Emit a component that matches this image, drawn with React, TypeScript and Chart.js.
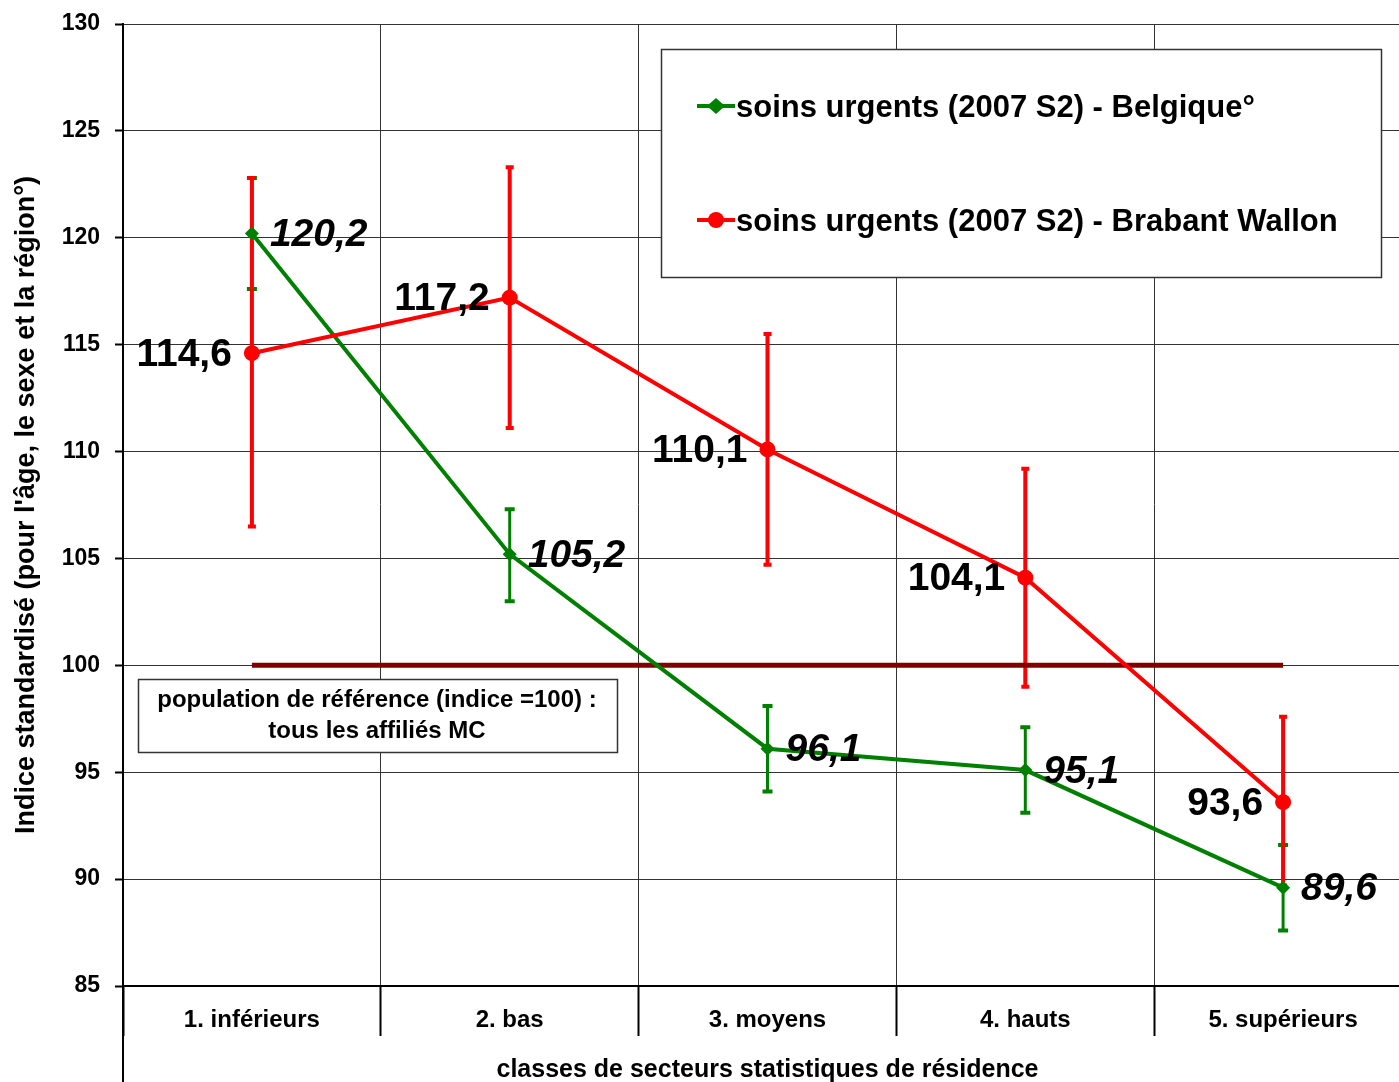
import React, { useEffect, useRef } from 'react';
import { Chart, registerables } from 'chart.js';

Chart.register(...registerables);

const categories = ['1. inférieurs', '2. bas', '3. moyens', '4. hauts', '5. supérieurs'];
const belgique = [120.2, 105.2, 96.1, 95.1, 89.6];
const belgiqueLow = [117.6, 103.0, 94.1, 93.1, 87.6];
const belgiqueHigh = [122.8, 107.3, 98.1, 97.1, 91.6];
const brabant = [114.6, 117.2, 110.1, 104.1, 93.6];
const brabantLow = [106.5, 111.1, 104.7, 99.0, 89.7];
const brabantHigh = [122.8, 123.3, 115.5, 109.2, 97.6];
const reference = [100, 100, 100, 100, 100];
const yMin = 85;
const yMax = 130;
const yStep = 5;
const seriesNames = ['soins urgents (2007 S2) - Belgique°', 'soins urgents (2007 S2) - Brabant Wallon'];
const refNote = ['population de référence (indice =100) :', 'tous les affiliés MC'];
const xTitle = 'classes de secteurs statistiques de résidence';
const yTitle = "Indice standardisé (pour l'âge, le sexe et la région°)";

const FONT = "'Liberation Sans', Arial, sans-serif";
const GREEN = '#008000';
const RED = '#FF0000';
const CANVAS_W = 1420;
const fmt = (v: number) => v.toFixed(1).replace('.', ',');

const errorBarsPlugin = {
  id: 'errorBars',
  beforeDatasetsDraw(chart: any) {
    const ctx = chart.ctx;
    const yS = chart.scales.y;
    const sets = [
      { idx: 0, low: belgiqueLow, high: belgiqueHigh, color: GREEN, w: 3, cap: 5 },
      { idx: 1, low: brabantLow, high: brabantHigh, color: RED, w: 4, cap: 4 },
    ];
    ctx.save();
    sets.forEach((s) => {
      const meta = chart.getDatasetMeta(s.idx);
      meta.data.forEach((pt: any, i: number) => {
        const x = pt.x;
        const y1 = yS.getPixelForValue(s.low[i]);
        const y2 = yS.getPixelForValue(s.high[i]);
        ctx.strokeStyle = s.color;
        ctx.lineWidth = s.w;
        ctx.beginPath();
        ctx.moveTo(x, y1);
        ctx.lineTo(x, y2);
        ctx.stroke();
        ctx.lineWidth = 4;
        ctx.beginPath();
        ctx.moveTo(x - s.cap, y1);
        ctx.lineTo(x + s.cap, y1);
        ctx.moveTo(x - s.cap, y2);
        ctx.lineTo(x + s.cap, y2);
        ctx.stroke();
      });
    });
    ctx.restore();
  },
  afterDatasetsDraw(chart: any) {
    const ctx = chart.ctx;
    ctx.save();
    ctx.fillStyle = '#000';
    ctx.textBaseline = 'middle';
    const m0 = chart.getDatasetMeta(0);
    ctx.font = `italic bold 39px ${FONT}`;
    ctx.textAlign = 'left';
    m0.data.forEach((pt: any, i: number) => {
      ctx.fillText(fmt(belgique[i]), pt.x + 18, pt.y + 2);
    });
    const m1 = chart.getDatasetMeta(1);
    ctx.font = `bold 39px ${FONT}`;
    ctx.textAlign = 'right';
    m1.data.forEach((pt: any, i: number) => {
      ctx.fillText(fmt(brabant[i]), pt.x - 20, pt.y + 2);
    });
    ctx.restore();
  },
  afterDraw(chart: any) {
    const ctx = chart.ctx;
    const area = chart.chartArea;
    ctx.save();
    // y axis line continuing below the x axis
    ctx.strokeStyle = '#000';
    ctx.lineWidth = 2;
    ctx.beginPath();
    ctx.moveTo(area.left, area.bottom);
    ctx.lineTo(area.left, chart.height);
    ctx.stroke();

    // legend box
    ctx.fillStyle = '#fff';
    ctx.fillRect(661, 49, 720, 228);
    ctx.strokeStyle = '#333';
    ctx.lineWidth = 1.5;
    ctx.strokeRect(661.5, 49.5, 720, 228);
    const rows = [106, 220];
    [0, 1].forEach((d) => {
      const ds = chart.data.datasets[d];
      const y = rows[d];
      ctx.strokeStyle = ds.borderColor;
      ctx.lineWidth = 4;
      ctx.beginPath();
      ctx.moveTo(697, y);
      ctx.lineTo(735, y);
      ctx.stroke();
      ctx.fillStyle = ds.borderColor;
      ctx.beginPath();
      if (d === 0) {
        ctx.moveTo(716, y - 8);
        ctx.lineTo(725, y);
        ctx.lineTo(716, y + 8);
        ctx.lineTo(707, y);
        ctx.closePath();
      } else {
        ctx.arc(716, y, 8, 0, Math.PI * 2);
      }
      ctx.fill();
      ctx.fillStyle = '#000';
      ctx.font = `bold 31px ${FONT}`;
      ctx.textAlign = 'left';
      ctx.textBaseline = 'middle';
      ctx.fillText(ds.label, 736, y + 2);
    });

    // reference note box
    ctx.fillStyle = '#fff';
    ctx.fillRect(138, 679, 479, 73);
    ctx.strokeStyle = '#333';
    ctx.lineWidth = 1.5;
    ctx.strokeRect(138.5, 679.5, 479, 73);
    ctx.fillStyle = '#000';
    ctx.font = `bold 24px ${FONT}`;
    ctx.textAlign = 'center';
    ctx.textBaseline = 'middle';
    ctx.fillText(refNote[0], 377, 700);
    ctx.fillText(refNote[1], 377, 731);
    ctx.restore();
  },
};

export default function App() {
  const ref = useRef<HTMLCanvasElement>(null);
  useEffect(() => {
    const canvas = ref.current!;
    const chart = new Chart(canvas, {
      type: 'line',
      data: {
        labels: categories,
        datasets: [
          {
            label: seriesNames[0],
            data: belgique,
            borderColor: GREEN,
            backgroundColor: GREEN,
            borderWidth: 4,
            pointStyle: 'rectRot',
            pointRadius: 7,
            pointBorderWidth: 0,
            order: 2,
          },
          {
            label: seriesNames[1],
            data: brabant,
            borderColor: RED,
            backgroundColor: RED,
            borderWidth: 4,
            pointStyle: 'circle',
            pointRadius: 8,
            pointBorderWidth: 0,
            order: 1,
          },
          {
            label: 'référence',
            data: reference,
            borderColor: '#800000',
            backgroundColor: '#800000',
            borderWidth: 5,
            pointRadius: 0,
            order: 3,
          },
        ],
      },
      options: {
        responsive: false,
        animation: false,
        devicePixelRatio: 1,
        layout: { padding: { top: 24, right: 1, left: 0, bottom: 0 } },
        plugins: {
          legend: { display: false },
          tooltip: { enabled: false },
        },
        scales: {
          x: {
            type: 'category',
            offset: true,
            grid: {
              offset: true,
              color: '#333',
              lineWidth: 1,
              drawTicks: true,
              tickLength: 50,
              tickColor: '#000',
              tickWidth: 2,
            },
            border: { display: true, color: '#000', width: 2 },
            ticks: {
              color: '#000',
              font: { family: FONT, size: 24, weight: 'bold' },
              padding: -30,
              maxRotation: 0,
              autoSkip: false,
            },
            title: {
              display: true,
              text: xTitle,
              color: '#000',
              font: { family: FONT, size: 25, weight: 'bold' },
              padding: { top: 0, bottom: -3 },
            },
            afterFit: (s: any) => {
              s.height = 96;
              s.paddingLeft = 0;
              s.paddingRight = 0;
            },
          },
          y: {
            min: yMin,
            max: yMax,
            ticks: {
              stepSize: yStep,
              color: '#000',
              font: { family: FONT, size: 23, weight: 'bold' },
              padding: 15,
            },
            grid: {
              color: '#333',
              lineWidth: 1,
              tickLength: 8,
              tickColor: '#000',
              tickWidth: 2,
            },
            border: { display: true, color: '#000', width: 2 },
            title: {
              display: true,
              text: yTitle,
              color: '#000',
              font: { family: FONT, size: 27, weight: 'bold' },
              padding: { top: 10, bottom: 0 },
            },
            afterFit: (s: any) => {
              s.width = 123;
              s.paddingTop = 0;
              s.paddingBottom = 0;
            },
          },
        },
      },
      plugins: [errorBarsPlugin],
    } as any);
    return () => chart.destroy();
  }, []);
  return (
    <div
      style={{
        position: 'fixed',
        left: 0,
        top: 0,
        width: 1399,
        height: 1082,
        overflow: 'hidden',
        background: '#fff',
      }}
    >
      <canvas
        ref={ref}
        width={CANVAS_W}
        height={1082}
        style={{ display: 'block', width: CANVAS_W, height: 1082 }}
      />
    </div>
  );
}
